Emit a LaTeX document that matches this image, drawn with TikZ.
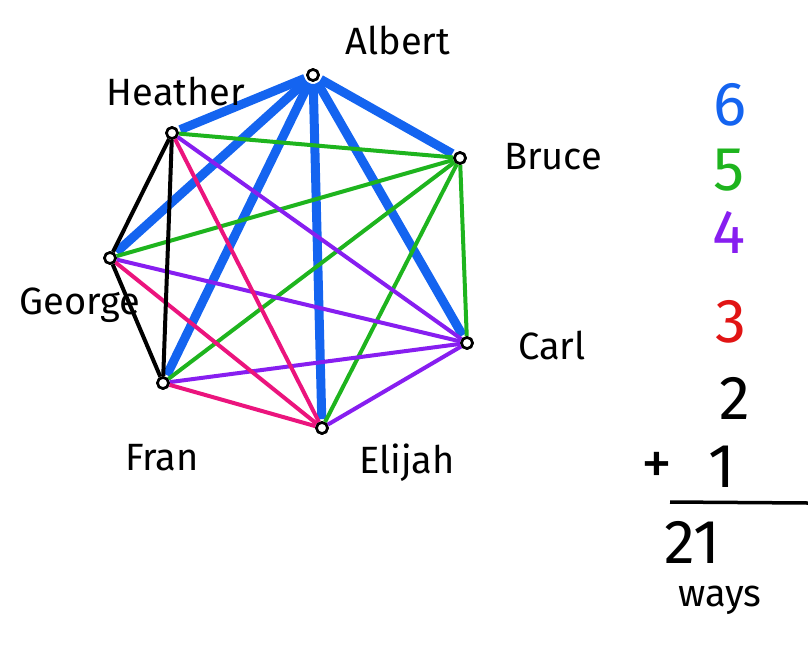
\documentclass[tikz,border=0pt]{standalone}
\usepackage{fontspec}
\setmainfont{Fira Sans}
\definecolor{eblue}{RGB}{20,100,240}
\definecolor{egreen}{RGB}{30,180,30}
\definecolor{epurple}{RGB}{135,30,240}
\definecolor{epink}{RGB}{235,20,125}
\definecolor{ered}{RGB}{225,20,20}
\begin{document}
\begin{tikzpicture}[x=1pt,y=-1pt,
  vert/.style={circle,draw=black,fill=white,line width=2.6pt,inner sep=0pt,minimum size=11pt},
  lbl/.style={font=\fontsize{38}{42}\selectfont,inner sep=0pt},
  num/.style={font=\fontsize{62}{66}\selectfont,inner sep=0pt},
  bedge/.style={eblue,line width=9pt,shorten <=2pt,shorten >=2pt},
  gedge/.style={egreen,line width=4pt},
  pedge/.style={epurple,line width=4pt},
  redge/.style={epink,line width=4pt},
  kedge/.style={black,line width=4pt}]
\useasboundingbox (0,0) rectangle (808,646);
% vertices
\node[vert] (A) at (313,75) {};
\node[vert] (B) at (460,158) {};
\node[vert] (C) at (467,343) {};
\node[vert] (E) at (322,428) {};
\node[vert] (F) at (163,383) {};
\node[vert] (G) at (110,258) {};
\node[vert] (H) at (172,133) {};
% edges
\draw[bedge] (A) -- (H);
\draw[bedge] (A) -- (G);
\draw[bedge] (A) -- (F);
\draw[bedge] (A) -- (E);
\draw[bedge] (A) -- (C);
\draw[bedge] (A) -- (B);
\draw[gedge] (B) -- (H);
\draw[gedge] (B) -- (G);
\draw[gedge] (B) -- (F);
\draw[gedge] (B) -- (E);
\draw[gedge] (B) -- (C);
\draw[pedge] (C) -- (H);
\draw[pedge] (C) -- (G);
\draw[pedge] (C) -- (F);
\draw[pedge] (C) -- (E);
\draw[redge] (E) -- (H);
\draw[redge] (E) -- (G);
\draw[redge] (E) -- (F);
\draw[kedge] (H) -- (G);
\draw[kedge] (H) -- (F);
\draw[kedge] (G) -- (F);
% redraw vertices on top
\foreach \v in {A,B,C,E,F,G,H} {\node[vert] at (\v) {};}
% labels
\node[lbl] (lA) at (398,40) {Albert};
\node[lbl] (lB) at (553,157) {Bruce};
\node[lbl] (lC) at (552,345) {Carl};
\node[lbl] (lE) at (407,463) {Elijah};
\node[lbl] (lF) at (162,458) {Fran};
\node[lbl] (lG) at (80,305) {George};
\node[lbl] (lH) at (176,92) {Heather};
% sums
\node[num,text=eblue] (n6) at (730,105) {6};
\node[num,text=egreen] (n5) at (729,170) {5};
\node[num,text=epurple] (n4) at (729,232) {4};
\node[num,text=ered] (n3) at (731,322) {3};
\node[num] (n2) at (735,398) {2};
\node[num] (n1) at (722,467) {1};
\node[num] (plus) at (657,468) {+};
\coordinate (rl) at (670,502);
\coordinate (rr) at (808,503);
\draw[line width=3.5pt] (rl) -- (rr);
\node[num] (n21) at (692,542) {21};
\node[lbl] (ways) at (720,600) {ways};
\end{tikzpicture}
\end{document}
